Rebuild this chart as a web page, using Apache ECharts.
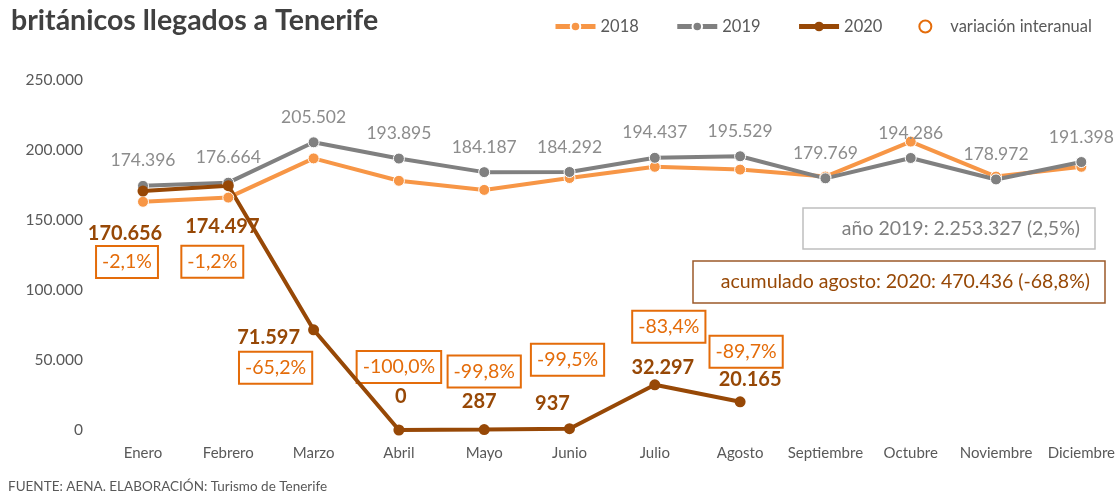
<!DOCTYPE html>
<html>
<head>
<meta charset="utf-8">
<script src="https://cdn.jsdelivr.net/npm/echarts@6/dist/echarts.min.js"></script>
<style>
  html, body { margin: 0; padding: 0; background: #fff; }
  #chart { width: 1118px; height: 494px; }
</style>
</head>
<body>
<div id="chart"></div>
<script>
// datos
var months = ['Enero', 'Febrero', 'Marzo', 'Abril', 'Mayo', 'Junio', 'Julio', 'Agosto', 'Septiembre', 'Octubre', 'Noviembre', 'Diciembre'];
var data2018 = [163000, 166000, 194000, 178000, 171500, 180000, 188000, 186000, 181000, 206000, 181000, 188000];
var data2019 = [174396, 176664, 205502, 193895, 184187, 184292, 194437, 195529, 179769, 194286, 178972, 191398];
var data2020 = [170656, 174497, 71597, 0, 287, 937, 32297, 20165];
var variacion = [-2.1, -1.2, -65.2, -100.0, -99.8, -99.5, -83.4, -89.7];
var yTicks = [0, 50000, 100000, 150000, 200000, 250000];
var totalAnio2019 = 'año 2019: 2.253.327 (2,5%)';
var totalAcumulado = 'acumulado agosto: 2020: 470.436 (-68,8%)';

// posiciones de etiquetas (solo estilo)
var off2020 = [[-18, 42], [-6, 41], [-45, 8], [2, -33], [-5, -28], [-17, -25], [8, -17], [10, -22]];
var offVar = [[-16, 71], [-16, 76], [-38, 38], [0, -63], [0, -58], [-2, -69], [14, -58], [6, -50]];

var FONT = 'Lato, "Open Sans", sans-serif';
var C18 = '#F79646', C19 = '#808080', C20 = '#974806', CVAR = '#E46C0A';

function miles(v) {
  return String(v).replace(/\B(?=(\d{3})+(?!\d))/g, '.');
}
function pct(v) {
  return v.toFixed(1).replace('.', ',') + '%';
}

var chart = echarts.init(document.getElementById('chart'));

var serie2020 = data2020.map(function (v, i) {
  return { value: v, label: { offset: off2020[i] } };
});
var serieVar = variacion.map(function (v, i) {
  return { value: [i, data2020[i]], label: { offset: offVar[i] } };
});

var option = {
  animation: false,
  textStyle: { fontFamily: FONT },
  title: {
    text: 'británicos llegados a Tenerife',
    left: 6, top: 1,
    textStyle: { fontSize: 28.5, fontWeight: 'bold', color: '#404040', fontFamily: FONT }
  },
  legend: {
    left: 548, top: 13,
    itemWidth: 40, itemHeight: 12, itemGap: 36,
    textStyle: { fontSize: 16.5, color: '#595959' },
    data: [
      { name: '2018', lineStyle: { width: 5 } },
      { name: '2019', lineStyle: { width: 5 } },
      { name: '2020', lineStyle: { width: 5 } },
      { name: 'variación interanual', icon: 'circle',
        itemStyle: { color: 'transparent', borderColor: CVAR, borderWidth: 2, opacity: 1 } }
    ]
  },
  grid: { left: 143, right: 36, top: 80, bottom: 64 },
  xAxis: {
    type: 'category',
    data: months,
    boundaryGap: false,
    axisLine: { show: false },
    axisTick: { show: false },
    axisLabel: { color: '#595959', fontSize: 15, margin: 16, interval: 0 }
  },
  yAxis: {
    type: 'value',
    min: yTicks[0], max: yTicks[yTicks.length - 1], interval: 50000,
    splitLine: { show: false },
    axisLabel: { color: '#595959', fontSize: 15.5, margin: 60, formatter: miles }
  },
  series: [
    {
      name: '2018', type: 'line', data: data2018,
      symbol: 'circle', symbolSize: 11,
      lineStyle: { color: C18, width: 4 },
      itemStyle: { color: C18, borderColor: '#fff', borderWidth: 1 }
    },
    {
      name: '2019', type: 'line', data: data2019,
      symbol: 'circle', symbolSize: 11,
      lineStyle: { color: C19, width: 4 },
      itemStyle: { color: C19, borderColor: '#fff', borderWidth: 1 },
      label: {
        show: true, position: 'top', distance: 10,
        color: '#8c8c8c', fontSize: 17.5, formatter: function (p) { return miles(p.value); }
      }
    },
    {
      name: '2020', type: 'line', data: serie2020,
      symbol: 'circle', symbolSize: 11,
      lineStyle: { color: C20, width: 4 },
      itemStyle: { color: C20 },
      label: {
        show: true, position: 'inside',
        color: C20, fontSize: 20, fontWeight: 'bold',
        formatter: function (p) { return miles(p.value); }
      }
    },
    {
      name: 'variación interanual', type: 'scatter', data: serieVar,
      symbolSize: 0,
      itemStyle: { color: CVAR, opacity: 1 },
      label: {
        show: true, position: 'inside',
        color: CVAR, fontSize: 19.5,
        borderColor: CVAR, borderWidth: 2, padding: [7, 6, 5, 6],
        formatter: function (p) { return pct(variacion[p.dataIndex]); }
      }
    }
  ],
  graphic: [
    {
      type: 'rect', shape: { x: 803, y: 208, width: 292, height: 41 },
      style: { fill: 'none', stroke: '#bfbfbf', lineWidth: 1.5 }
    },
    {
      type: 'text', x: 1080, y: 229,
      style: { text: totalAnio2019, fill: '#7f7f7f', fontSize: 19.5, fontFamily: FONT, align: 'right', verticalAlign: 'middle' }
    },
    {
      type: 'rect', shape: { x: 693, y: 261, width: 412, height: 42 },
      style: { fill: 'none', stroke: '#9c5a2a', lineWidth: 1.5 }
    },
    {
      type: 'text', x: 1090, y: 282,
      style: { text: totalAcumulado, fill: C20, fontSize: 19.5, fontFamily: FONT, align: 'right', verticalAlign: 'middle' }
    },
    {
      type: 'text', x: 8, y: 480,
      style: { text: 'FUENTE: AENA. ELABORACIÓN: Turismo de Tenerife', fill: '#595959', fontSize: 13.5, fontFamily: FONT }
    }
  ]
};

chart.setOption(option);
</script>
</body>
</html>
